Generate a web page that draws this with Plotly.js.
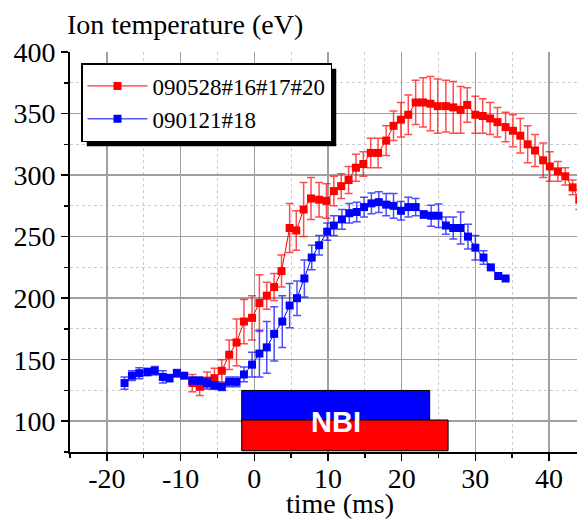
<!DOCTYPE html>
<html>
<head>
<meta charset="utf-8">
<script src="https://cdn.plot.ly/plotly-3.0.1.min.js"></script>
<style>
html, body { margin: 0; padding: 0; overflow: hidden; background: #fff; }
#chart { width: 620px; height: 519px; }
</style>
</head>
<body>
<div id="chart"></div>
<script>
// ---- data ----
const redName = '090528#16#17#20';
const redX = [-8.4,-7.4,-6.4,-5.4,-4.4,-3.4,-2.4,-1.4,-0.3,
  0.7,1.7,2.7,3.7,4.8,5.7,6.7,7.7,8.8,9.8,
  10.8,11.8,12.8,13.8,14.8,15.8,16.8,17.9,18.9,19.9,
  20.9,21.9,22.9,23.9,24.9,26.0,27.0,28.0,28.9,30.0,
  31.0,32.0,33.0,34.1,35.1,36.1,37.1,38.1,39.2,40.1,
  41.2,42.2,43.2,44.1];
const redY = [131,128,133,135,141,154,164,181,184,
  196,202,209,222,257,255,272,281,280,279,
  287,291,296,306,309,318,318,328,340,345,
  349,359,359,358,356,356,355,353,357,349,
  348,346,343,339,336,332,325,320,312,307,
  303,299,290,280];
const redErr = [7,7,7,8,9,12,19,18,18,
  23,11,11,13,20,16,22,17,14,14,
  12,10,11,11,10,12,12,12,12,14,
  16,18,20,22,22,21,21,19,14,15,
  14,13,12,12,13,14,15,13,14,12,
  8,7,6,8];

const blueName = '090121#18';
const blueX = [-17.6,-16.6,-15.6,-14.5,-13.5,-12.4,-11.5,-10.5,-9.5,-8.4,
  -7.5,-6.4,-5.4,-4.4,-3.4,-2.4,-1.4,-0.3,0.7,1.7,
  2.7,3.8,4.8,5.8,6.8,7.8,8.8,9.9,10.8,11.9,
  12.9,13.9,14.9,15.9,16.9,17.9,18.9,19.9,20.9,21.9,
  23.0,24.0,25.0,26.0,27.0,28.0,29.0,30.0,31.1,32.1,
  33.1,34.1];
const blueY = [131,137,139,140,141,136,135,139,137,133,
  133,131,129,128,132,132,138,146,155,160,
  171,181,194,200,216,233,243,254,259,264,
  269,270,274,277,278,276,275,271,274,274,
  268,267,267,259,257,257,250,241,233,225,
  218,216];
const blueErr = [5,4,4.5,3,3.5,5,3,3,2,3,
  3,4,3,3,4,4,6,10,19,21,
  22,21,18,14,15,10,8,7,8,8,
  8,8,8,8.5,8.5,9,10,7.5,8,7,
  3,8.5,9.5,7,9,13,10,10,5.5,0,
  0,0];

// axis tick values / labels (hyphen minus as in the reference)
const xTickVals = [-20, -10, 0, 10, 20, 30, 40];
const xTickText = ['-20', '-10', '0', '10', '20', '30', '40'];
const yTickVals = [100, 150, 200, 250, 300, 350, 400];
const yTickText = ['100', '150', '200', '250', '300', '350', '400'];

// NBI pulse bars: [blue, red]
const nbiLabel = 'NBI';
const nbiStart = [-1.7, -1.7];
const nbiEnd = [23.8, 26.3];
const nbiLow = [101, 76];
const nbiHigh = [125, 101];
const nbiColors = ['#0000ff', '#ff0000'];

const xTitle = 'time (ms)';
const yTitle = 'Ion temperature (eV)';

// ---- figure ----
const serif = 'Liberation Serif';

function series(name, xs, ys, errs, color, errColor) {
  return {
    type: 'scatter', mode: 'lines+markers', name: name,
    x: xs, y: ys,
    line: {color: color, width: 1},
    marker: {symbol: 'square', size: 8, color: color},
    error_y: {type: 'data', array: errs, visible: true, color: errColor, thickness: 1.5, width: 4},
    cliponaxis: true
  };
}

const traces = [
  series(redName, redX, redY, redErr, '#ff0000', 'rgba(255,0,0,0.7)'),
  series(blueName, blueX, blueY, blueErr, '#0000ff', 'rgba(0,0,255,0.7)')
];

const W = 620, H = 519, ML = 70, MR = 10, MT = 52, MB = 67;
const xRange = [-25, 48.27];

const shapes = nbiStart.map((s, i) => ({
  type: 'rect', xref: 'x', yref: 'y', layer: 'above',
  x0: s, x1: nbiEnd[i], y0: nbiLow[i], y1: nbiHigh[i],
  fillcolor: nbiColors[i], line: {color: 'black', width: 1}
}));

const layout = {
  width: W, height: H,
  margin: {l: ML, r: MR, t: MT, b: MB, pad: 0},
  paper_bgcolor: 'white', plot_bgcolor: 'white',
  font: {family: serif, size: 28, color: 'black'},
  showlegend: true,
  title: {text: yTitle, xref: 'container', x: 67 / W, xanchor: 'left',
          yref: 'container', y: 1 - 24 / H, yanchor: 'middle',
          font: {family: serif, size: 28, color: 'black'}},
  xaxis: {
    range: xRange, tickmode: 'array', tickvals: xTickVals, ticktext: xTickText,
    zeroline: false, automargin: false,
    showgrid: true, gridcolor: '#a0a0a0', gridwidth: 1.5,
    showline: true, linecolor: 'black', linewidth: 2,
    ticks: 'outside', ticklen: 7, tickwidth: 1.5, tickcolor: 'black',
    ticklabelstandoff: 0,
    minor: {dtick: 5, tick0: 0, ticks: 'outside', ticklen: 4, tickwidth: 1.5, tickcolor: 'black',
            showgrid: true, gridcolor: '#cccccc', griddash: 'dot', gridwidth: 1},
    tickfont: {family: serif, size: 28, color: 'black'},
    title: {text: xTitle, font: {family: serif, size: 28, color: 'black'}, standoff: 0}
  },
  xaxis2: {
    overlaying: 'x', side: 'top', anchor: 'y',
    range: xRange, tick0: 0, dtick: 10, zeroline: false,
    showgrid: false, showline: true, linecolor: 'black', linewidth: 2,
    ticks: 'inside', ticklen: 7, tickwidth: 1.5, tickcolor: 'black',
    showticklabels: false,
    minor: {dtick: 5, tick0: 0, ticks: 'inside', ticklen: 4, tickwidth: 1.5, tickcolor: 'black', showgrid: false}
  },
  yaxis: {
    range: [75, 400], tickmode: 'array', tickvals: yTickVals, ticktext: yTickText,
    zeroline: false, automargin: false,
    showgrid: true, gridcolor: '#a0a0a0', gridwidth: 1.5,
    showline: true, linecolor: 'black', linewidth: 2,
    ticks: 'outside', ticklen: 7, tickwidth: 1.5, tickcolor: 'black',
    ticklabelstandoff: 8,
    minor: {dtick: 25, tick0: 0, ticks: 'outside', ticklen: 4, tickwidth: 1.5, tickcolor: 'black',
            showgrid: true, gridcolor: '#cccccc', griddash: 'dot', gridwidth: 1},
    tickfont: {family: serif, size: 28, color: 'black'}
  },
  legend: {
    x: (81 - ML) / (W - ML - MR), y: (H - MB - 63) / (H - MT - MB),
    xanchor: 'left', yanchor: 'top',
    bgcolor: 'white', bordercolor: 'black', borderwidth: 1.5,
    font: {family: serif, size: 23, color: 'black'},
    itemwidth: 60, tracegroupgap: 0
  },
  shapes: shapes,
  annotations: [{
    xref: 'x', yref: 'y',
    x: (nbiStart[0] + nbiEnd[0]) / 2, y: nbiLow[0] - 1.5,
    text: '<b>' + nbiLabel + '</b>', showarrow: false,
    font: {family: 'Liberation Sans', size: 29, color: 'white'}
  }]
};

const gd = document.getElementById('chart');

function box(sel) {
  const e = gd.querySelector(sel);
  if (!e) return null;
  const r = e.getBoundingClientRect(), g = gd.getBoundingClientRect();
  return {left: r.left - g.left, right: r.right - g.left, top: r.top - g.top, bottom: r.bottom - g.top};
}

Plotly.newPlot(gd, traces, layout, {displayModeBar: false, staticPlot: true}).then(() => {
  // place tick labels where the reference has them
  const yb = box('.ytick text'), xb = box('.xtick text');
  const upd = {};
  if (yb) upd['yaxis.ticklabelstandoff'] = Math.round(8 + (yb.right - 55));
  if (xb) upd['xaxis.ticklabelstandoff'] = Math.round(0 - (xb.top - 463));
  return Plotly.relayout(gd, upd);
}).then(() => {
  // x title centred near y = 501
  const tb = box('.g-xtitle text');
  if (!tb) return;
  const c = (tb.top + tb.bottom) / 2;
  const so = Math.max(0, Math.round(501 - c));
  if (so > 0) return Plotly.relayout(gd, {'xaxis.title.standoff': so});
}).then(() => {
  // drop shadow behind the legend box
  const r = box('.legend .bg');
  if (!r) return;
  const pw = W - ML - MR, ph = H - MT - MB;
  const shadow = {
    type: 'rect', xref: 'paper', yref: 'paper', layer: 'above',
    x0: (r.left + 5 - ML) / pw, x1: (r.right + 5 - ML) / pw,
    y0: (H - MB - (r.bottom + 5)) / ph, y1: (H - MB - (r.top + 5)) / ph,
    fillcolor: 'black', line: {width: 0}
  };
  return Plotly.relayout(gd, {shapes: shapes.concat([shadow])});
});
</script>
</body>
</html>
